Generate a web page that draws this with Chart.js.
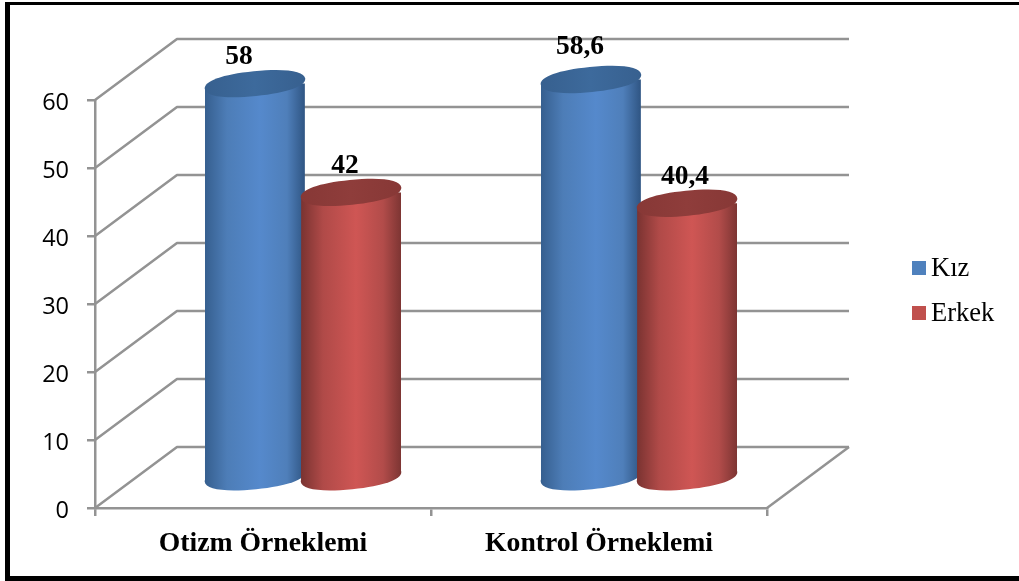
<!DOCTYPE html>
<html><head><meta charset="utf-8">
<style>
html,body{margin:0;padding:0;background:#fff;width:1019px;height:581px;overflow:hidden}
#c{position:absolute;left:0;top:0}
#frame{position:absolute;left:5px;top:2px;width:1014px;height:571px;border:solid #000;border-width:3px 0 6px 5px;pointer-events:none}
</style>
<script src="https://cdn.jsdelivr.net/npm/chart.js@4/dist/chart.umd.min.js"></script>
</head><body>
<canvas id="c" width="1019" height="581"></canvas>
<div id="frame"></div>
<script>
const categories = ["Otizm Örneklemi", "Kontrol Örneklemi"];
const kizValues = [58, 58.6];
const erkekValues = [42, 40.4];
const seriesNames = ["Kız", "Erkek"];
const kizLabels = ["58", "58,6"];
const erkekLabels = ["42", "40,4"];

const depth = {dx: 82, dy: -61};
const mid = {dx: 40, dy: -30};
const GRID = "#939393";
const cyl = {rx: 50.5, ry: 12.5, tilt: -0.1, k: 0.62};
const looks = [
  {stops: ["#365f8f", "#4d7db7", "#5589cc", "#4f7fba", "#2f5583"], cap: "#3d6a9c", capDark: "#37608f",
   labels: kizLabels, labelDx: [-16, -11], labelDy: [-27, -33]},
  {stops: ["#7a3331", "#b04a48", "#cf5654", "#b24c4a", "#7d3533"], cap: "#8f3d3b", capDark: "#873836",
   labels: erkekLabels, labelDx: [-6, -2], labelDy: [-27, -26]}
];

function ellipsePath(ctx, x, y) {
  const {rx, ry, k, tilt} = cyl;
  ctx.save();
  ctx.translate(x, y);
  ctx.rotate(tilt);
  ctx.moveTo(-rx, 0);
  ctx.bezierCurveTo(-rx, -ry * k, -rx * k, -ry, 0, -ry);
  ctx.bezierCurveTo(rx * k, -ry, rx, -ry * k, rx, 0);
  ctx.bezierCurveTo(rx, ry * k, rx * k, ry, 0, ry);
  ctx.bezierCurveTo(-rx * k, ry, -rx, ry * k, -rx, 0);
  ctx.closePath();
  ctx.restore();
}
function drawCylinders(chart, index) {
  const {ctx} = chart;
  const look = looks[index];
  const meta = chart.getDatasetMeta(index);
  const els = meta.data;
  ctx.save();
  ctx.translate(mid.dx, mid.dy);
  els.forEach(el => {
    const w = el.width / 2, s = Math.tan(cyl.tilt) * w;
    const g = ctx.createLinearGradient(el.x - w, 0, el.x + w, 0);
    [0, 0.22, 0.55, 0.82, 1].forEach((p, i) => g.addColorStop(p, look.stops[i]));
    el.options = Object.assign({}, el.options, {backgroundColor: g});
    ctx.beginPath();
    ellipsePath(ctx, el.x, el.base);
    ctx.fillStyle = g;
    ctx.fill();
    ctx.beginPath();
    ctx.moveTo(el.x - w, el.base - 20);
    ctx.lineTo(el.x + w, el.base - 20);
    ctx.lineTo(el.x + w, el.base + s);
    ctx.lineTo(el.x - w, el.base - s);
    ctx.closePath();
    ctx.fill();
  });
  ctx.save();
  ctx.beginPath();
  els.forEach(el => {
    const w = el.width / 2, s = Math.tan(cyl.tilt) * w;
    ctx.moveTo(el.x - w, el.y - s);
    ctx.lineTo(el.x + w, el.y + s);
    ctx.lineTo(el.x + w, el.base + s);
    ctx.lineTo(el.x - w, el.base - s);
    ctx.closePath();
  });
  ctx.clip();
  meta.controller.draw();
  ctx.restore();
  els.forEach(el => {
    const g = ctx.createLinearGradient(el.x - cyl.rx, 0, el.x + cyl.rx, 0);
    g.addColorStop(0, look.capDark);
    g.addColorStop(0.5, look.cap);
    g.addColorStop(1, look.capDark);
    ctx.beginPath();
    ellipsePath(ctx, el.x, el.y);
    ctx.fillStyle = g;
    ctx.fill();
  });
  ctx.restore();
}
const cylinders = {
  id: "cylinders",
  beforeDatasetsDraw(chart) {
    const {ctx, scales: {y: ys}, chartArea: a} = chart;
    ctx.save();
    ctx.strokeStyle = GRID;
    ctx.lineWidth = 2.5;
    ctx.lineJoin = "round";
    ys.ticks.forEach(t => {
      const py = ys.getPixelForValue(t.value);
      ctx.beginPath();
      ctx.moveTo(a.left, py);
      ctx.lineTo(a.left + depth.dx, py + depth.dy);
      ctx.lineTo(a.right + depth.dx, py + depth.dy);
      ctx.stroke();
    });
    const p0 = ys.getPixelForValue(0);
    ctx.beginPath();
    ctx.moveTo(a.right, p0);
    ctx.lineTo(a.right + depth.dx, p0 + depth.dy);
    ctx.stroke();
    ctx.fillStyle = "#000";
    ctx.font = '23.5px "Open Sans"';
    ctx.textAlign = "right";
    ctx.textBaseline = "middle";
    ys.ticks.forEach(t => {
      ctx.fillText(String(t.value), a.left - 26, ys.getPixelForValue(t.value) + 3);
    });
    ctx.restore();
  },
  beforeDatasetDraw() {
    return false;
  },
  afterDatasetsDraw(chart) {
    const {ctx} = chart;
    drawCylinders(chart, 0);
    drawCylinders(chart, 1);
    ctx.save();
    ctx.fillStyle = "#000";
    ctx.font = 'bold 27.5px "Liberation Serif"';
    ctx.textAlign = "center";
    ctx.textBaseline = "middle";
    looks.forEach((look, i) => {
      chart.getDatasetMeta(i).data.forEach((el, j) => {
        ctx.fillText(look.labels[j], el.x + mid.dx + look.labelDx[j], el.y + mid.dy + look.labelDy[j]);
      });
    });
    ctx.textAlign = "left";
    ctx.font = '26.5px "Liberation Serif"';
    const rows = [268, 313];
    chart.data.datasets.forEach((ds, i) => {
      ctx.fillStyle = ds.backgroundColor;
      ctx.fillRect(912, rows[i] - 7, 14, 14);
      ctx.fillStyle = "#000";
      ctx.fillText(ds.label, 931, rows[i] + 1);
    });
    ctx.restore();
  }
};

new Chart(document.getElementById("c"), {
  type: "bar",
  data: {
    labels: categories,
    datasets: [
      {label: seriesNames[0], data: kizValues, backgroundColor: "#4f81bd", clip: false,
       categoryPercentage: 0.572, barPercentage: 1.04},
      {label: seriesNames[1], data: erkekValues, backgroundColor: "#c0504d", clip: false,
       categoryPercentage: 0.572, barPercentage: 1.04}
    ]
  },
  options: {
    responsive: false,
    animation: false,
    events: [],
    layout: {padding: {left: 0, right: 252, top: 100, bottom: 0}},
    plugins: {legend: {display: false}, tooltip: {enabled: false}},
    scales: {
      x: {
        grid: {display: true, drawOnChartArea: false, drawTicks: true, tickLength: 8, tickColor: GRID, lineWidth: 2.5, offset: true},
        border: {color: GRID, width: 2.5},
        ticks: {color: "#000", font: {family: '"Liberation Serif"', weight: "bold", size: 27.7}, padding: 11, maxRotation: 0, autoSkip: false},
        afterFit(s) { s.height = 73; }
      },
      y: {
        min: 0, max: 60,
        grid: {display: true, drawOnChartArea: false, drawTicks: true, tickLength: 8, tickColor: GRID, lineWidth: 2.5},
        border: {color: GRID, width: 2.5},
        ticks: {stepSize: 10, display: false},
        afterFit(s) { s.width = 95; }
      }
    }
  },
  plugins: [cylinders]
});
</script>
</body></html>
